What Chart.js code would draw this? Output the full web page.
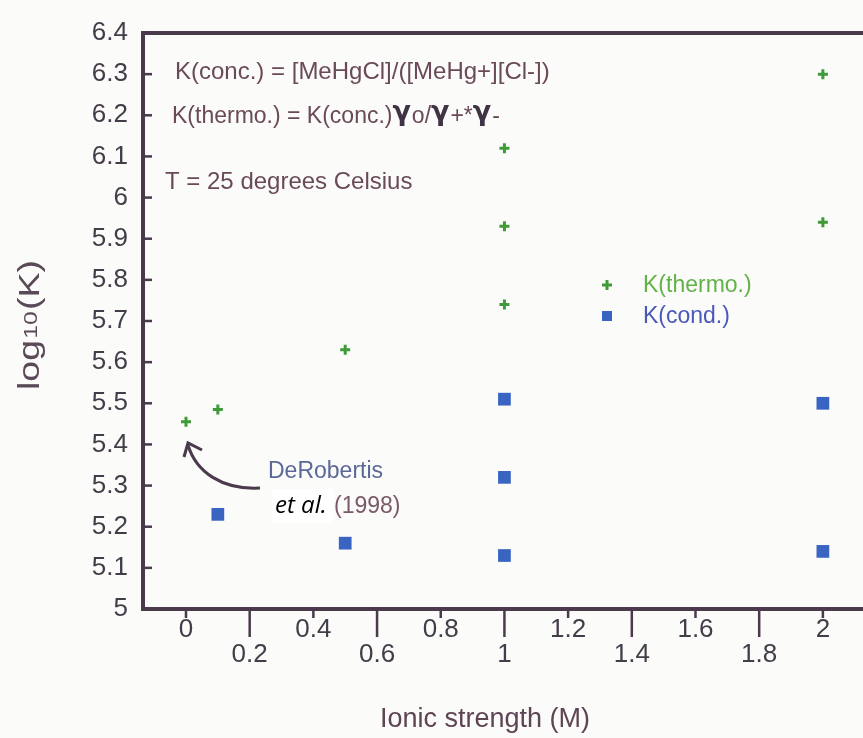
<!DOCTYPE html>
<html><head><meta charset="utf-8">
<script src="https://cdn.jsdelivr.net/npm/chart.js@4.4.0/dist/chart.umd.min.js"></script>
<style>html,body{margin:0;padding:0;background:#fbfbf9;} #wrap{width:863px;height:738px;position:relative;}</style>
</head><body><div id="wrap"><canvas id="c" width="863" height="738"></canvas></div>
<script>
// ---- data ----
const thermoX = [0, 0.1, 0.5, 1, 1, 1, 2, 2];
const thermoY = [5.455, 5.485, 5.63, 5.74, 5.93, 6.12, 6.3, 5.94];
const condX = [0.1, 0.5, 1, 1, 1, 2, 2];
const condY = [5.23, 5.16, 5.51, 5.32, 5.13, 5.50, 5.14];
const xTickValues = [0, 0.2, 0.4, 0.6, 0.8, 1, 1.2, 1.4, 1.6, 1.8, 2];
const xTickLabels = ['0', '0.2', '0.4', '0.6', '0.8', '1', '1.2', '1.4', '1.6', '1.8', '2'];
const yTickValues = [5, 5.1, 5.2, 5.3, 5.4, 5.5, 5.6, 5.7, 5.8, 5.9, 6, 6.1, 6.2, 6.3, 6.4];
const yTickLabels = ['5', '5.1', '5.2', '5.3', '5.4', '5.5', '5.6', '5.7', '5.8', '5.9', '6', '6.1', '6.2', '6.3', '6.4'];
const seriesNames = ['K(thermo.)', 'K(cond.)'];
const xTitle = 'Ionic strength (M)';
const yTitleParts = ['log', '10', '(K)'];
const noteLine1 = 'K(conc.) = [MeHgCl]/([MeHg+][Cl-])';
const noteLine2 = ['K(thermo.) = K(conc.)', '\u03b3', 'o/', '\u03b3', '+*', '\u03b3', '-'];
const noteLine3 = 'T = 25 degrees Celsius';
const citeLines = ['DeRobertis', 'et al.', '(1998)'];

const FONT = '"Liberation Sans", Arial, sans-serif';
const AXIS = '#4a3a4c';
const GREEN = '#3f9a38';
const BLUE = '#3a64c2';
const TEXT = '#6a4a58';

const mk = (xs, ys) => xs.map((x, i) => ({x: x, y: ys[i]}));

const decor = {
  id: 'decor',
  afterDraw(chart) {
    const ctx = chart.ctx;
    const a = chart.chartArea;
    const xs = chart.scales.x, ys = chart.scales.y;
    ctx.save();
    // top border
    ctx.strokeStyle = AXIS; ctx.lineWidth = 4;
    ctx.beginPath(); ctx.moveTo(a.left - 2, a.top); ctx.lineTo(863, a.top); ctx.stroke();
    // y ticks (inside)
    ctx.lineWidth = 2.5;
    yTickValues.forEach(v => {
      const p = ys.getPixelForValue(v);
      ctx.beginPath(); ctx.moveTo(a.left, p); ctx.lineTo(a.left + 9, p); ctx.stroke();
    });
    // x ticks (outside, alternating)
    xTickValues.forEach((v, i) => {
      const p = xs.getPixelForValue(v);
      ctx.beginPath(); ctx.moveTo(p, a.bottom); ctx.lineTo(p, a.bottom + (i % 2 ? 28 : 9)); ctx.stroke();
    });
    // x title
    ctx.fillStyle = '#5e4454';
    ctx.font = '27px ' + FONT;
    ctx.textAlign = 'left'; ctx.textBaseline = 'middle';
    ctx.fillText(xTitle, 380, 720);
    // y title (rotated, with small "10")
    ctx.save();
    ctx.translate(29, 325);
    ctx.rotate(-Math.PI / 2);
    const f1 = '29px ' + FONT, f2 = '19px ' + FONT;
    ctx.font = f1; const w1 = ctx.measureText(yTitleParts[0]).width, w3 = ctx.measureText(yTitleParts[2]).width;
    ctx.font = f2; const w2 = ctx.measureText(yTitleParts[1]).width;
    const tot = w1 + w2 + w3 + 2;
    const sx = 130 / tot;
    ctx.scale(sx, 1);
    let yx = -tot / 2;
    ctx.fillStyle = '#5a4a58';
    ctx.textBaseline = 'alphabetic';
    ctx.font = f1; ctx.fillText(yTitleParts[0], yx, 10); yx += w1 + 1;
    ctx.font = f2; ctx.fillText(yTitleParts[1], yx, 8); yx += w2 + 1;
    ctx.font = f1; ctx.fillText(yTitleParts[2], yx, 10);
    ctx.restore();
    ctx.textBaseline = 'middle';
    // notes
    ctx.fillStyle = TEXT;
    ctx.font = '24px ' + FONT;
    ctx.fillText(noteLine1, 175, 72);
    let x = 172;
    noteLine2.forEach((t) => {
      if (t === '\u03b3') { ctx.font = 'bold 27px "DejaVu Sans", sans-serif'; ctx.fillStyle = '#3e3444'; }
      else { ctx.font = '23px ' + FONT; ctx.fillStyle = TEXT; }
      ctx.fillText(t, x, t === '\u03b3' ? 113 : 117);
      x += ctx.measureText(t).width + (t === '\u03b3' ? 1 : 0);
    });
    ctx.font = '24px ' + FONT; ctx.fillStyle = TEXT;
    ctx.fillText(noteLine3, 165, 182);
    // legend
    const lg = [[GREEN, '#62b248', 285], [BLUE, '#4a58b8', 316]];
    lg.forEach((L, i) => {
      const cx = 607, cy = L[2];
      ctx.fillStyle = L[0]; ctx.strokeStyle = L[0];
      if (i === 0) {
        ctx.lineWidth = 3;
        ctx.beginPath(); ctx.moveTo(cx - 5, cy); ctx.lineTo(cx + 5, cy);
        ctx.moveTo(cx, cy - 5); ctx.lineTo(cx, cy + 5); ctx.stroke();
      } else {
        ctx.fillRect(cx - 5, cy - 5, 10, 10);
      }
      ctx.fillStyle = L[1];
      ctx.font = '23px ' + FONT;
      ctx.fillText(seriesNames[i], 643, cy + 1);
    });
    // citation
    ctx.fillStyle = '#5c6898';
    ctx.font = '23px ' + FONT;
    ctx.fillText(citeLines[0], 268, 472);
    ctx.fillStyle = '#ffffff';
    ctx.fillRect(272, 489, 62, 34);
    ctx.fillStyle = '#000000';
    ctx.font = 'italic 24px "Open Sans", sans-serif';
    ctx.fillText(citeLines[1], 275, 506);
    ctx.fillStyle = '#7a5a6a';
    ctx.font = '23px ' + FONT;
    ctx.fillText(citeLines[2], 334, 507);
    // arrow
    ctx.strokeStyle = AXIS; ctx.lineWidth = 3;
    ctx.beginPath(); ctx.moveTo(260, 488);
    ctx.bezierCurveTo(222, 490, 196, 472, 188, 445); ctx.stroke();
    ctx.beginPath(); ctx.moveTo(184, 457); ctx.lineTo(188, 443); ctx.lineTo(202, 450); ctx.stroke();
    ctx.restore();
  }
};

new Chart(document.getElementById('c'), {
  type: 'scatter',
  data: {
    datasets: [
      { label: seriesNames[0], data: mk(thermoX, thermoY), pointStyle: 'cross', pointRadius: 5,
        borderColor: GREEN, backgroundColor: GREEN, pointBorderWidth: 3, pointHoverRadius: 5 },
      { label: seriesNames[1], data: mk(condX, condY), pointStyle: 'rect', pointRadius: 9,
        borderColor: BLUE, backgroundColor: BLUE, pointBorderWidth: 0, pointHoverRadius: 9 }
    ]
  },
  options: {
    responsive: false, animation: false,
    layout: { autoPadding: false, padding: { top: 33, left: 0, right: 0, bottom: 0 } },
    plugins: { legend: { display: false }, tooltip: { enabled: false } },
    scales: {
      x: {
        type: 'linear', min: -0.135, max: 2.126,
        afterBuildTicks: s => { s.ticks = xTickValues.map(v => ({value: v})); },
        afterFit: s => { s.height = 129; },
        grid: { display: false, drawTicks: false },
        border: { display: true, color: AXIS, width: 4 },
        ticks: { autoSkip: false, maxRotation: 0, padding: 8, color: '#443c48',
          font: { family: FONT, size: 26, lineHeight: 0.96 },
          callback: (v, i) => (i % 2 ? ['', xTickLabels[i]] : xTickLabels[i]) }
      },
      y: {
        type: 'linear', min: 5, max: 6.4,
        afterBuildTicks: s => { s.ticks = yTickValues.map(v => ({value: v})); },
        afterFit: s => { s.width = 143; },
        grid: { display: false, drawTicks: false },
        border: { display: true, color: AXIS, width: 4 },
        ticks: { autoSkip: false, padding: 15, color: '#443c48', font: { family: FONT, size: 26 },
          callback: (v, i) => yTickLabels[i] }
      }
    }
  },
  plugins: [decor]
});
</script></body></html>
